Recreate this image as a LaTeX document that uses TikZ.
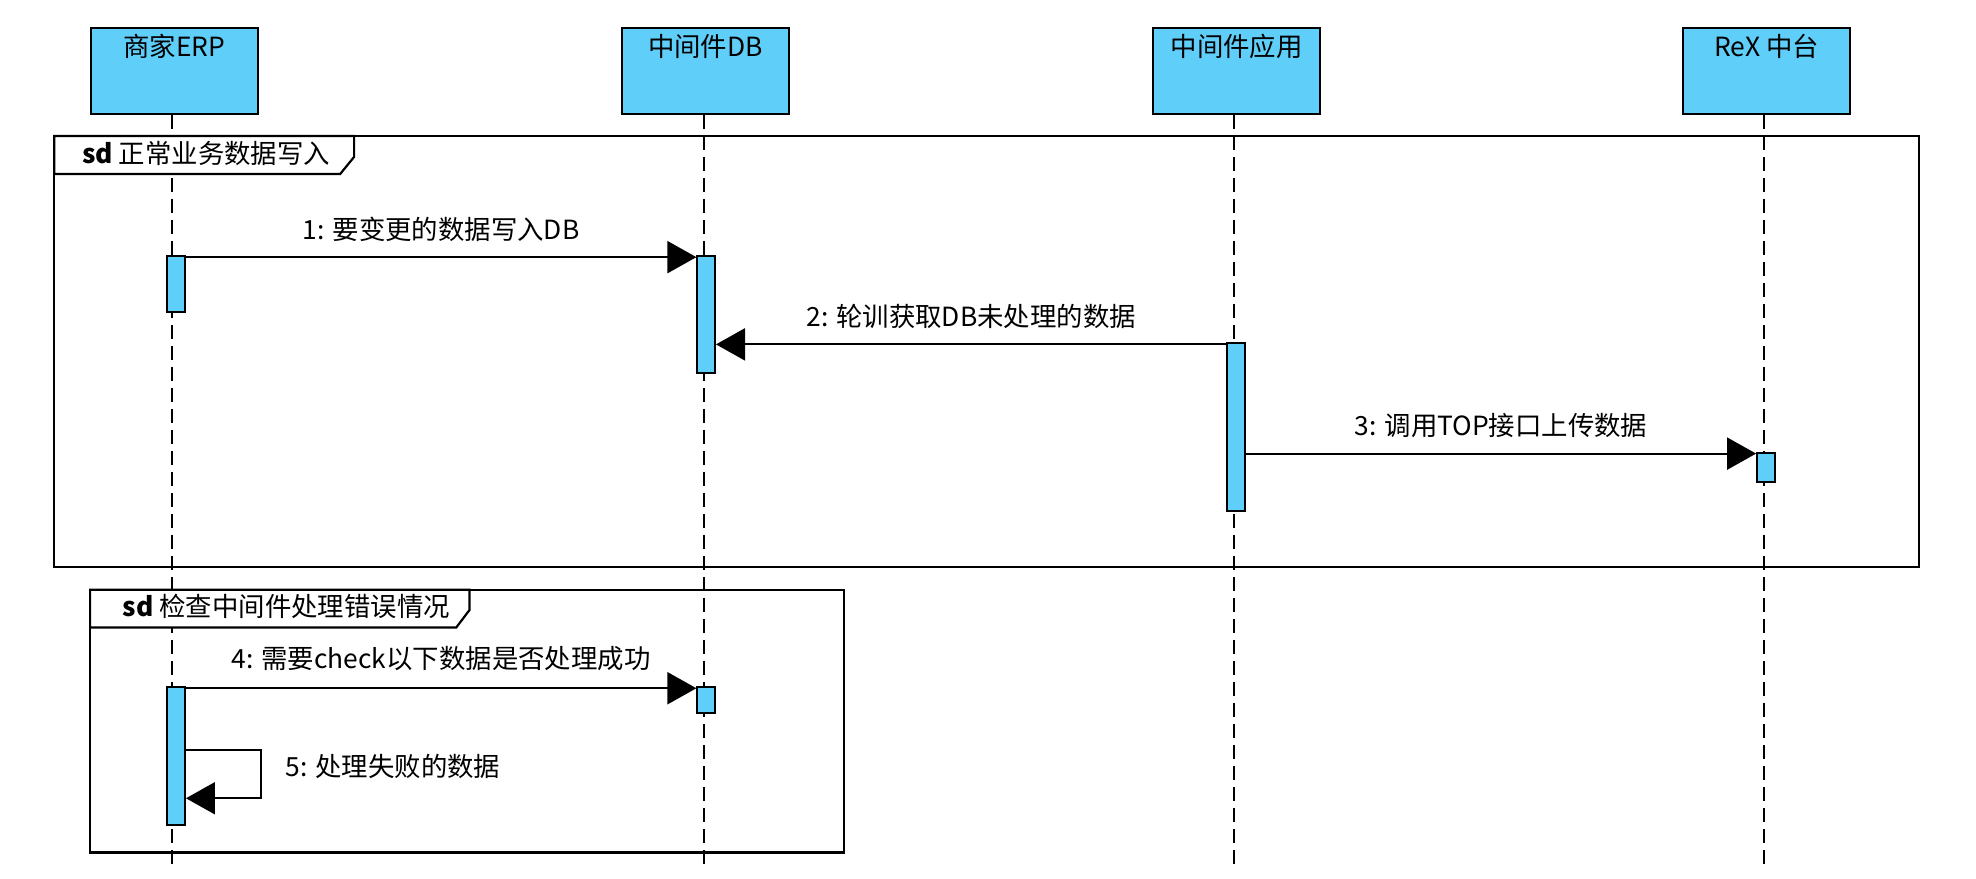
\documentclass[tikz,border=0pt]{standalone}
\usepackage{fontspec}
\setmainfont{Noto Sans CJK SC}
\usetikzlibrary{arrows.meta}
\definecolor{vpblue}{RGB}{95,207,250}
\begin{document}
\begin{tikzpicture}[x=0.63pt,y=-0.63pt,
  every node/.style={font=\fontsize{13.2pt}{15pt}\selectfont},
  head/.style={draw, line width=1.1pt, fill=vpblue, minimum width=83.4pt, minimum height=42.8pt, anchor=north west, inner sep=0},
  headlbl/.style={inner sep=0, anchor=center, yshift=-9.8pt},
  act/.style={draw, line width=1pt, fill=vpblue, minimum width=8.8pt, anchor=north west, inner sep=0},
  life/.style={line width=1pt, dash pattern=on 7pt off 3.5pt},
  frameline/.style={line width=1.1pt},
  tabline/.style={line width=1.1pt, fill=white},
  msg/.style={line width=1pt, -{Triangle[length=14.5pt,width=16pt]}},
  lbl/.style={inner sep=0, anchor=center, yshift=13.9pt},
  framelbl/.style={inner sep=0, anchor=west},
]
\useasboundingbox (0,0) rectangle (1568,697);

% heads
\node[head, label={[headlbl]north:商家ERP}] (erp) at (71.3,21.5) {};
\node[head, label={[headlbl]north:中间件DB}] (db) at (492.8,21.5) {};
\node[head, label={[headlbl]north:中间件应用}] (app) at (914.3,21.5) {};
\node[head, label={[headlbl]north:ReX 中台}] (rex) at (1334.8,21.5) {};

% lifeline ends
\coordinate (erpend) at (136.6,690);
\coordinate (dbend) at (559,690);
\coordinate (append) at (979.4,690);
\coordinate (rexend) at (1400,690);

\draw[life] (erpend |- erp.south) -- (erpend);
\draw[life] (dbend |- db.south) -- (dbend);
\draw[life] (append |- app.south) -- (append);
\draw[life] (rexend |- rex.south) -- (rexend);

% frame 1
\draw[frameline] (43,108) rectangle (1523,450);
\draw[tabline] (43,108) -- (281,108) -- (281,124.5) -- (270,138) -- (43,138) -- cycle;
\node[framelbl] (f1lbl) at (64.8,122) {\textbf{sd} 正常业务数据写入};

% frame 2
\draw[frameline] (71.5,468) rectangle (669.6,676.5);
\draw[tabline] (71.5,468) -- (372.6,468) -- (372.6,484) -- (362,498) -- (71.5,498) -- cycle;
\node[framelbl] (f2lbl) at (97,481.5) {\textbf{sd} 检查中间件处理错误情况};

% activations
\node[act, minimum height=28.4pt] (e1) at (132,202) {};
\node[act, minimum height=58.6pt] (d1) at (552.6,202) {};
\node[act, minimum height=83.9pt] (p1) at (973.2,271.7) {};
\node[act, minimum height=14.5pt] (r1) at (1393.5,359) {};
\node[act, minimum height=68.9pt] (e2) at (132,544.4) {};
\node[act, minimum height=13.2pt] (d2) at (552.6,544.4) {};

% messages
\draw[msg] ([yshift=-1.3pt]e1.north east) -- node[lbl]{1: 要变更的数据写入DB} ([yshift=-1.3pt]d1.north west);

\coordinate (m2s) at ([yshift=-1pt]p1.north west);
\draw[msg] (m2s) -- node[lbl]{2: 轮训获取DB未处理的数据} (m2s -| d1.east);

\coordinate (m3e) at ([yshift=-0.6pt]r1.north west);
\draw[msg] (m3e -| p1.east) -- node[lbl]{3: 调用TOP接口上传数据} (m3e);

\draw[msg] ([yshift=-1.1pt]e2.north east) -- node[lbl, yshift=1pt]{4: 需要check以下数据是否处理成功} ([yshift=-1.1pt]d2.north west);

\draw[msg] ([yshift=-32.1pt]e2.north east) -- ++(37.3pt,0pt)
  -- node[framelbl, pos=0.5, xshift=12pt, yshift=3.8pt]{5: 处理失败的数据} ++(0pt,-24pt)
  -- ([yshift=-56.1pt]e2.north east);
\end{tikzpicture}
\end{document}
